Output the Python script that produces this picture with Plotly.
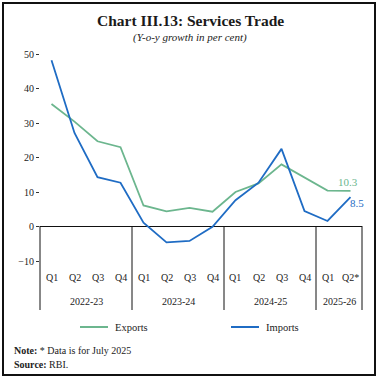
import plotly.graph_objects as go

quarters = ["Q1", "Q2", "Q3", "Q4", "Q1", "Q2", "Q3", "Q4", "Q1", "Q2", "Q3", "Q4", "Q1", "Q2*"]
years = ["2022-23", "2023-24", "2024-25", "2025-26"]
year_spans = [(0, 3), (4, 7), (8, 11), (12, 13)]
exports = [35.5, 30.4, 24.7, 23.0, 6.1, 4.4, 5.4, 4.3, 10.0, 12.5, 18.0, 14.2, 10.4, 10.3]
imports = [48.2, 27.1, 14.3, 12.7, 1.1, -4.6, -4.2, -0.1, 7.6, 12.7, 22.5, 4.5, 1.6, 8.5]
y_ticks = [-10, 0, 10, 20, 30, 40, 50]

GREEN = "#6cb68e"
BLUE = "#1f6cc4"
FONT = "Liberation Serif"
TXT = "#222222"

idx = list(range(len(quarters)))
fig = go.Figure()
fig.add_trace(go.Scatter(x=idx, y=exports, mode="lines", line=dict(color=GREEN, width=1.8), name="Exports"))
fig.add_trace(go.Scatter(x=idx, y=imports, mode="lines", line=dict(color=BLUE, width=1.8), name="Imports"))

W, H = 379, 379
L, R_px, T, B_px = 40, 362, 54, 261
pw, ph = R_px - L, B_px - T

def px(xp):
    return (xp - L) / pw

def py(yp):
    return (B_px - yp) / ph

ann = []
shapes = []
# title
ann.append(dict(text="<b>Chart III.13: Services Trade</b>", x=px(190), y=py(21), xref="paper", yref="paper",
                showarrow=False, font=dict(family=FONT, size=15.5, color="#1a1a1a"), xanchor="center", yanchor="middle"))
ann.append(dict(text="<i>(Y-o-y growth in per cent)</i>", x=px(190), y=py(37), xref="paper", yref="paper",
                showarrow=False, font=dict(family=FONT, size=11, color="#1a1a1a"), xanchor="center", yanchor="middle"))
# quarter labels
n = len(quarters)
for i, q in enumerate(quarters):
    ann.append(dict(text=q, x=(i + 0.5) / n, y=py(277), xref="paper", yref="paper", showarrow=False,
                    font=dict(family=FONT, size=10, color=TXT), xanchor="center", yanchor="middle"))
for yr, (a, b) in zip(years, year_spans):
    ann.append(dict(text=yr, x=(a + b + 1) / 2 / n, y=py(301), xref="paper", yref="paper", showarrow=False,
                    font=dict(family=FONT, size=10, color=TXT), xanchor="center", yanchor="middle"))
# dividers
for d in [0, 4, 8, 12, 14]:
    shapes.append(dict(type="line", xref="paper", yref="paper", x0=d / n, x1=d / n, y0=py(226), y1=py(310),
                       line=dict(color="#111111", width=1)))
# end labels
ann.append(dict(text="10.3", x=12.9, y=12.9, xref="x", yref="y", showarrow=False,
                font=dict(family=FONT, size=11, color=GREEN), xanchor="center", yanchor="middle"))
ann.append(dict(text="8.5", x=13.3, y=6.7, xref="x", yref="y", showarrow=False,
                font=dict(family=FONT, size=11, color=BLUE), xanchor="center", yanchor="middle"))
# legend
for (nm, col, x0) in [("Exports", GREEN, 80), ("Imports", BLUE, 231)]:
    shapes.append(dict(type="line", xref="paper", yref="paper", x0=px(x0), x1=px(x0 + 28), y0=py(327), y1=py(327),
                       line=dict(color=col, width=2)))
    ann.append(dict(text=nm, x=px(x0 + 33), y=py(327), xref="paper", yref="paper", showarrow=False,
                    font=dict(family=FONT, size=10.5, color=TXT), xanchor="left", yanchor="middle"))
# notes
ann.append(dict(text="<b>Note:</b> * Data is for July 2025", x=px(12), y=py(350), xref="paper", yref="paper",
                showarrow=False, font=dict(family=FONT, size=10, color=TXT), xanchor="left", yanchor="middle"))
ann.append(dict(text="<b>Source:</b> RBI.", x=px(12), y=py(364), xref="paper", yref="paper",
                showarrow=False, font=dict(family=FONT, size=10, color=TXT), xanchor="left", yanchor="middle"))
# frame
shapes.append(dict(type="rect", xref="paper", yref="paper", x0=px(3), x1=px(375), y0=py(375), y1=py(3),
                   line=dict(color="#111111", width=2)))

fig.update_layout(
    width=W, height=H,
    margin=dict(l=L, r=W - R_px, t=T, b=H - B_px, pad=0),
    paper_bgcolor="white", plot_bgcolor="white",
    showlegend=False,
    annotations=ann, shapes=shapes,
    xaxis=dict(range=[-0.5, n - 0.5], showgrid=False, zeroline=False, showticklabels=False, showline=False,
               fixedrange=True),
    yaxis=dict(range=[-10, 50], tickvals=y_ticks, showgrid=False, zeroline=True, zerolinecolor="#111111",
               zerolinewidth=1, showline=False, ticks="outside", ticklen=3, tickcolor="#333333",
               tickfont=dict(family=FONT, size=10, color=TXT), fixedrange=True),
)
fig.write_html("out.html", config={"displayModeBar": False},
               post_script="document.body.style.margin='0';document.body.style.padding='0';document.body.style.overflow='hidden';")
